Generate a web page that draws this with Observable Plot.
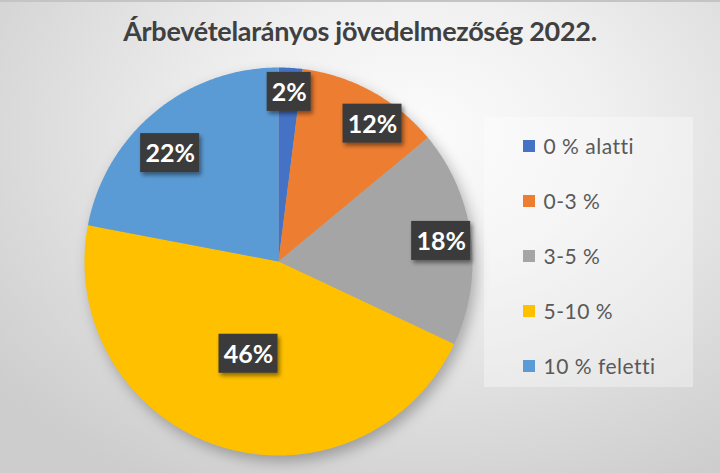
<!DOCTYPE html>
<html>
<head>
<meta charset="utf-8">
<script src="https://cdn.jsdelivr.net/npm/d3@7"></script>
<script src="https://cdn.jsdelivr.net/npm/@observablehq/plot@0.6"></script>
<style>
  html, body { margin: 0; padding: 0; }
  #chart {
    width: 720px; height: 473px; position: relative; overflow: hidden;
    background: radial-gradient(ellipse 75% 85% at 58% 28%, #fcfcfc 0%, #f0f0f0 35%, #dadada 75%, #cdcdcd 100%);
    border-top: 2px solid #c4c4c4; box-sizing: border-box;
  }
  #title {
    height: 56px; box-sizing: border-box; padding-top: 13px;
    text-align: center; font-family: Lato, "Open Sans", sans-serif; font-weight: 700;
    font-size: 27px; color: #404040; letter-spacing: -0.3px; line-height: 32px;
  }
  svg { display: block; }
</style>
</head>
<body>
<div id="chart"><div id="title">Árbevételarányos jövedelmezőség 2022.</div></div>
<script>
// ---- data ----
const categories = ["0 % alatti", "0-3 %", "3-5 %", "5-10 %", "10 % feletti"];
const values = [2, 12, 18, 46, 22];
const labels = ["2%", "12%", "18%", "46%", "22%"];
const colors = ["#4472C4", "#ED7D31", "#A5A5A5", "#FFC000", "#5B9BD5"];

// ---- layout ----
const W = 720, H = 415;
const cx = 278, cy = 203, R = 194;
const labelRadius = [0.876, 0.86, 0.845, 0.5, 0.79];
const labelAngleShift = [0, 0.096, 0, 0, -0.094];

const arcs = d3.pie().sort(null).value(d => d)(values);

// slice polygons
const slicePts = [];
arcs.forEach((a, i) => {
  slicePts.push({cat: categories[i], x: cx, y: cy});
  const n = Math.max(4, Math.ceil((a.endAngle - a.startAngle) / 0.01));
  for (let k = 0; k <= n; k++) {
    const t = a.startAngle + (a.endAngle - a.startAngle) * k / n;
    slicePts.push({cat: categories[i], x: cx + R * Math.sin(t), y: cy - R * Math.cos(t)});
  }
});

// label positions
const labelData = arcs.map((a, i) => {
  const m = (a.startAngle + a.endAngle) / 2 + labelAngleShift[i];
  const r = R * labelRadius[i];
  const w = labels[i].length * 15 + 14;
  const x = cx + r * Math.sin(m), y = cy - r * Math.cos(m);
  return {label: labels[i], x, y, x1: x - w / 2, x2: x + w / 2, y1: y - 19.5, y2: y + 19.5};
});

// legend
const legX = 523, legY0 = 88, legStep = 55;
const legendData = categories.map((c, i) => ({cat: c, y: legY0 + i * legStep}));

const plot = Plot.plot({
  width: W, height: H,
  margin: 0,
  x: {domain: [0, W], range: [0, W], axis: null},
  y: {domain: [0, H], range: [0, H], axis: null},
  color: {domain: categories, range: colors},
  style: {background: "transparent", overflow: "visible"},
  marks: [
    // shadow disc
    Plot.dot([{x: cx + 4, y: cy + 6}], {x: "x", y: "y", r: R, fill: "#000", fillOpacity: 0.28, stroke: "none", className: "pieshadow"}),
    // slices
    Plot.line(slicePts, {x: "x", y: "y", z: "cat", fill: "cat", stroke: "none", curve: "linear"}),
    // legend box
    Plot.rect([{x1: 484, x2: 693, y1: 59, y2: 329}], {x1: "x1", x2: "x2", y1: "y1", y2: "y2", fill: "#ffffff", fillOpacity: 0.35}),
    Plot.rect(legendData, {x1: legX, x2: legX + 12, y1: d => d.y - 6, y2: d => d.y + 6, fill: "cat"}),
    Plot.text(legendData, {x: legX + 20, y: "y", text: "cat", textAnchor: "start", fill: "#595959",
      fontSize: 21, fontFamily: "Lato, 'Open Sans', sans-serif", dy: 1, className: "legtext"}),
    // label boxes
    Plot.rect(labelData, {x1: "x1", x2: "x2", y1: "y1", y2: "y2", fill: "#3b3b3b", className: "labbox"}),
    Plot.text(labelData, {x: "x", y: "y", text: "label", fill: "#ffffff", fontSize: 25, fontWeight: 700,
      fontFamily: "Lato, 'Open Sans', sans-serif", dy: 1})
  ]
});

// add filters for soft shadows
const ns = "http://www.w3.org/2000/svg";
const defs = document.createElementNS(ns, "defs");
defs.innerHTML = `
  <filter id="blurShadow" x="-20%" y="-20%" width="140%" height="140%"><feGaussianBlur stdDeviation="7"/></filter>
  <filter id="boxShadow" x="-30%" y="-30%" width="160%" height="160%">
    <feDropShadow dx="2" dy="3" stdDeviation="2" flood-color="#000" flood-opacity="0.45"/>
  </filter>`;
plot.insertBefore(defs, plot.firstChild);
plot.querySelectorAll(".pieshadow").forEach(g => g.setAttribute("filter", "url(#blurShadow)"));
plot.querySelectorAll(".labbox rect").forEach(r => r.setAttribute("filter", "url(#boxShadow)"));
plot.querySelectorAll(".legtext").forEach(g => g.setAttribute("letter-spacing", "0.5"));

document.getElementById("chart").appendChild(plot);
</script>
</body>
</html>
